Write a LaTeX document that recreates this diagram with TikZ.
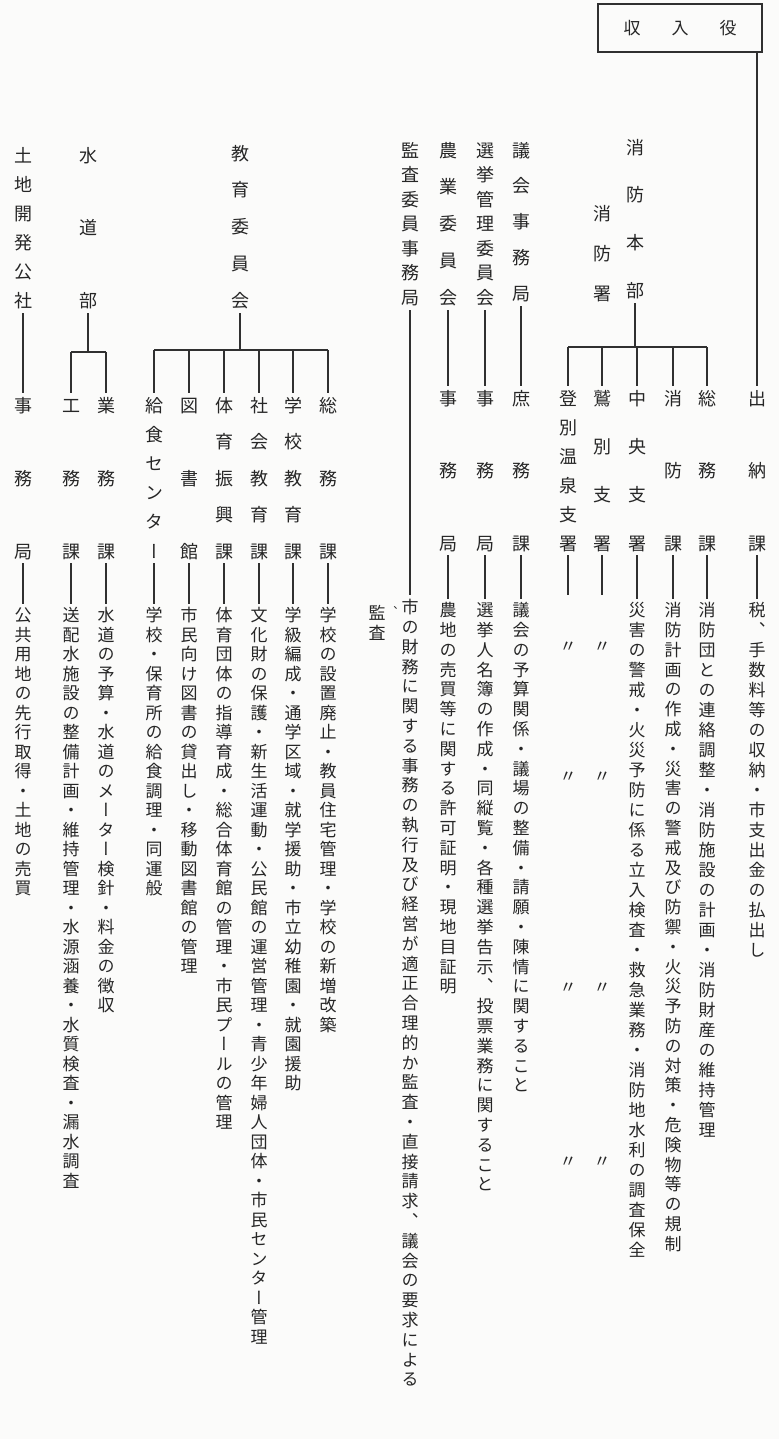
\documentclass[tikz,border=0pt]{standalone}
\usepackage{fontspec}
\newfontfamily\jp[RawFeature=+vert]{Noto Sans CJK JP}
\newcommand\vchar[1]{\hbox to 1.1em{\hss\vrule height .88em depth .12em width 0pt\relax #1\hss}}
\def\vtloop#1{\ifx#1\vtend\else\vchar{#1}\expandafter\vtloop\fi}
\let\vtend\relax
\newcommand\vtxt[2]{\vbox{\baselineskip=#1\relax\lineskiplimit=-\maxdimen\lineskip=0pt\relax\vtloop#2\vtend}}
\definecolor{ink}{HTML}{262626}
\definecolor{linec}{HTML}{303030}
\definecolor{paper}{HTML}{FBFBFA}
\tikzset{
  conn/.style={draw=linec, line width=1.1pt},
  desc/.style={anchor=north, inner sep=0pt, font=\jp\fontsize{17}{17}\selectfont, text=ink, yshift=8.5pt},
  lbl/.style={anchor=north, inner sep=0pt, font=\jp\fontsize{18}{18}\selectfont, text=ink, yshift=9pt},
  ditto/.style={inner sep=0pt, font=\jp\fontsize{17}{17}\selectfont, text=ink},
  smallmark/.style={inner sep=0pt, font=\jp\fontsize{11}{11}\selectfont, text=ink},
  titlebox/.style={draw=linec, line width=1.4pt, minimum width=164pt, minimum height=48pt, inner sep=0pt, font=\jp\fontsize{17}{17}\selectfont, text=ink}
}
\begin{document}
\begin{tikzpicture}[x=1pt,y=-1pt]
\fill[paper] (0,0) rectangle (779,1439);
\useasboundingbox (0,0) rectangle (779,1439);

% ---- top box ----
\node[titlebox] (box) at (680,28) {収\hspace{31pt}入\hspace{31pt}役};

% ---- headers ----
\node[lbl] (hqH)     at (635,147) {\vtxt{47.67pt}{消防本部}};
\node[lbl] (fsH)     at (602,213) {\vtxt{40pt}{消防署}};
\node[lbl] (gikaiH)  at (521,150) {\vtxt{35.75pt}{議会事務局}};
\node[lbl] (senkyoH) at (485,150) {\vtxt{24.5pt}{選挙管理委員会}};
\node[lbl] (nogyoH)  at (448,150) {\vtxt{36.75pt}{農業委員会}};
\node[lbl] (kansaH)  at (410,150) {\vtxt{24.5pt}{監査委員事務局}};
\node[lbl] (kyoikuH) at (240,153) {\vtxt{36.75pt}{教育委員会}};
\node[lbl] (suidoH)  at (88,155)  {\vtxt{72.5pt}{水道部}};
\node[lbl] (tochiH)  at (23,155)  {\vtxt{29pt}{土地開発公社}};

% ---- right labels ----
\node[lbl] (rL1) at (757,398) {\vtxt{72.5pt}{出納課}};
\node[lbl] (rL2) at (707,398) {\vtxt{72.5pt}{総務課}};
\node[lbl] (rL3) at (673,398) {\vtxt{72.5pt}{消防課}};
\node[lbl] (rL4) at (637,398) {\vtxt{48.33pt}{中央支署}};
\node[lbl] (rL5) at (602,398) {\vtxt{48.33pt}{鷲別支署}};
\node[lbl] (rL6) at (568,398) {\vtxt{29pt}{登別温泉支署}};
\node[lbl] (rL7) at (521,398) {\vtxt{72.5pt}{庶務課}};
\node[lbl] (rL8) at (485,398) {\vtxt{72.5pt}{事務局}};
\node[lbl] (rL9) at (448,398) {\vtxt{72.5pt}{事務局}};

% ---- right descriptions ----
\node[desc] (rD1) at (757,610) {\vtxt{20pt}{税、手数料等の収納・市支出金の払出し}};
\node[desc] (rD2) at (707,610) {\vtxt{20pt}{消防団との連絡調整・消防施設の計画・消防財産の維持管理}};
\node[desc] (rD3) at (673,610) {\vtxt{19.8pt}{消防計画の作成・災害の警戒及び防禦・火災予防の対策・危険物等の規制}};
\node[desc] (rD4) at (637,610) {\vtxt{20pt}{災害の警戒・火災予防に係る立入検査・救急業務・消防地水利の調査保全}};
\node[desc] (rD7) at (521,610) {\vtxt{19.8pt}{議会の予算関係・議場の整備・請願・陳情に関すること}};
\node[desc] (rD8) at (485,610) {\vtxt{19.8pt}{選挙人名簿の作成・同縦覧・各種選挙告示、投票業務に関すること}};
\node[desc] (rD9) at (448,610) {\vtxt{19.8pt}{農地の売買等に関する許可証明・現地目証明}};
\node[desc] (rD10) at (410,607) {\vtxt{19.8pt}{市の財務に関する事務の執行及び経営が適正合理的か監査・直接請求、議会の要求による}};
\node[desc] (rD11) at (377,613) {\vtxt{20pt}{監査}};
\node[smallmark] (comma) at (392,611) {、};

% ditto marks
\node[ditto] (d51) at (602,647) {〃};
\node[ditto] (d52) at (602,777) {〃};
\node[ditto] (d53) at (602,988) {〃};
\node[ditto] (d54) at (602,1162) {〃};
\node[ditto] (d61) at (568,647) {〃};
\node[ditto] (d62) at (568,777) {〃};
\node[ditto] (d63) at (568,988) {〃};
\node[ditto] (d64) at (568,1162) {〃};

% ---- left labels ----
\node[lbl] (lL1) at (328,405) {\vtxt{73pt}{総務課}};
\node[lbl] (lL2) at (293,405) {\vtxt{36.5pt}{学校教育課}};
\node[lbl] (lL3) at (259,405) {\vtxt{36.5pt}{社会教育課}};
\node[lbl] (lL4) at (224,405) {\vtxt{36.5pt}{体育振興課}};
\node[lbl] (lL5) at (189,405) {\vtxt{73pt}{図書館}};
\node[lbl] (lL6) at (154,405) {\vtxt{29.2pt}{給食センター}};
\node[lbl] (lL7) at (106,405) {\vtxt{73pt}{業務課}};
\node[lbl] (lL8) at (71,405)  {\vtxt{73pt}{工務課}};
\node[lbl] (lL9) at (23,405)  {\vtxt{73pt}{事務局}};

% ---- left descriptions ----
\node[desc] (lD1) at (328,615) {\vtxt{19.5pt}{学校の設置廃止・教員住宅管理・学校の新増改築}};
\node[desc] (lD2) at (293,615) {\vtxt{19.5pt}{学級編成・通学区域・就学援助・市立幼稚園・就園援助}};
\node[desc] (lD3) at (259,615) {\vtxt{19.5pt}{文化財の保護・新生活運動・公民館の運営管理・青少年婦人団体・市民センター管理}};
\node[desc] (lD4) at (224,615) {\vtxt{19.5pt}{体育団体の指導育成・総合体育館の管理・市民プールの管理}};
\node[desc] (lD5) at (189,615) {\vtxt{19.5pt}{市民向け図書の貸出し・移動図書館の管理}};
\node[desc] (lD6) at (154,615) {\vtxt{19.5pt}{学校・保育所の給食調理・同運般}};
\node[desc] (lD7) at (106,615) {\vtxt{19.5pt}{水道の予算・水道のメーター検針・料金の徴収}};
\node[desc] (lD8) at (71,615)  {\vtxt{19.5pt}{送配水施設の整備計画・維持管理・水源涵養・水質検査・漏水調査}};
\node[desc] (lD9) at (23,615)  {\vtxt{19.5pt}{公共用地の先行取得・土地の売買}};

% ---- connectors: right ----
\draw[conn, shorten >=3pt] (rL1.north |- box.south) -- (rL1.north);
\coordinate (fbar) at (0,347);
\draw[conn, shorten <=4pt] (hqH.south) -- (hqH.south |- fbar);
\draw[conn] (rL6.north |- fbar) -- (rL2.north |- fbar);
\foreach \n in {rL2,rL3,rL4,rL5,rL6} \draw[conn, shorten >=3pt] (\n.north |- fbar) -- (\n.north);
\draw[conn, shorten <=4pt, shorten >=3pt] (gikaiH.south) -- (rL7.north);
\draw[conn, shorten <=4pt, shorten >=3pt] (senkyoH.south) -- (rL8.north);
\draw[conn, shorten <=4pt, shorten >=3pt] (nogyoH.south) -- (rL9.north);
\draw[conn, shorten <=4pt, shorten >=4pt] (kansaH.south) -- (rD10.north);
\foreach \a/\b in {rL1/rD1,rL2/rD2,rL3/rD3,rL4/rD4,rL7/rD7,rL8/rD8,rL9/rD9}
  \draw[conn, shorten <=3pt, shorten >=3pt] (\a.south) -- (\b.north);
\coordinate (e5) at (602,595);
\coordinate (e6) at (568,595);
\draw[conn, shorten <=3pt] (rL5.south) -- (e5);
\draw[conn, shorten <=3pt] (rL6.south) -- (e6);

% ---- connectors: left ----
\coordinate (ebar) at (0,350);
\draw[conn, shorten <=4pt] (kyoikuH.south) -- (kyoikuH.south |- ebar);
\draw[conn] (lL6.north |- ebar) -- (lL1.north |- ebar);
\foreach \n in {lL1,lL2,lL3,lL4,lL5,lL6} \draw[conn, shorten >=3pt] (\n.north |- ebar) -- (\n.north);
\coordinate (wbar) at (0,352);
\draw[conn, shorten <=4pt] (suidoH.south) -- (suidoH.south |- wbar);
\draw[conn] (lL8.north |- wbar) -- (lL7.north |- wbar);
\foreach \n in {lL7,lL8} \draw[conn, shorten >=3pt] (\n.north |- wbar) -- (\n.north);
\draw[conn, shorten <=4pt, shorten >=3pt] (tochiH.south) -- (lL9.north);
\foreach \a/\b in {lL1/lD1,lL2/lD2,lL3/lD3,lL4/lD4,lL5/lD5,lL6/lD6,lL7/lD7,lL8/lD8,lL9/lD9}
  \draw[conn, shorten <=3pt, shorten >=3pt] (\a.south) -- (\b.north);
\end{tikzpicture}
\end{document}
